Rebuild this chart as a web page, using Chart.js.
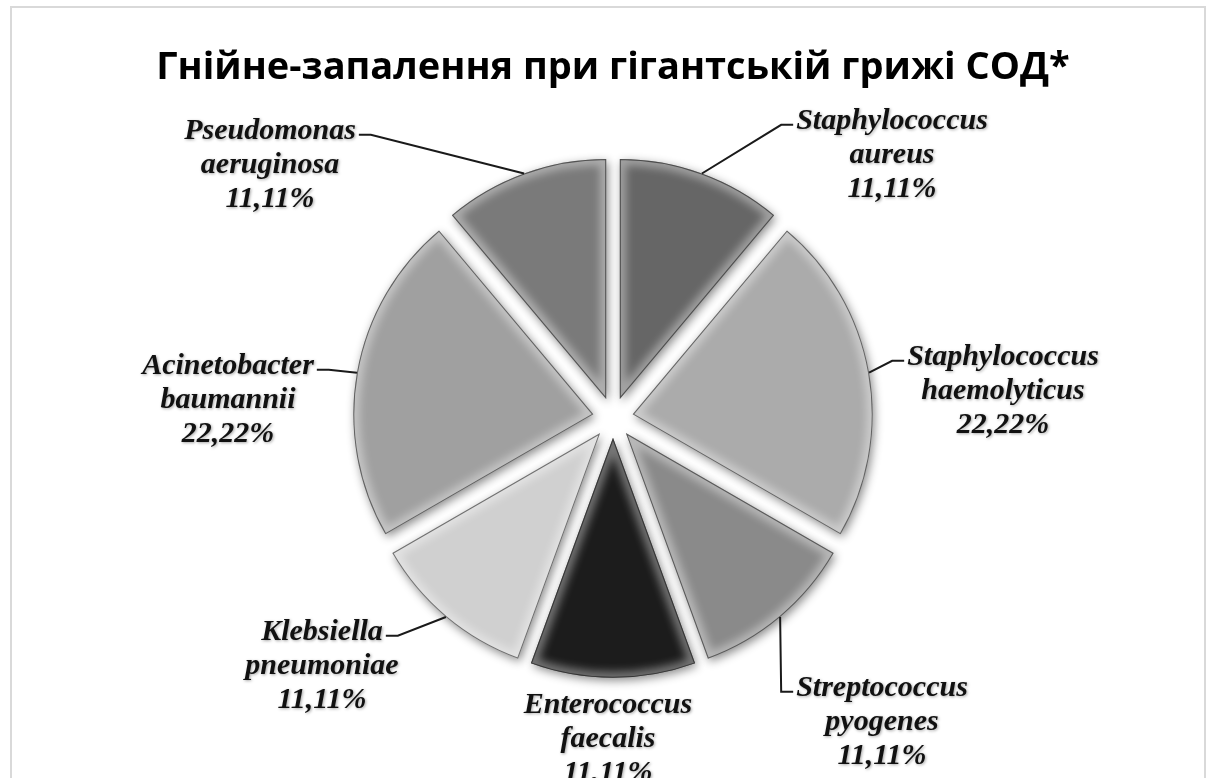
<!DOCTYPE html>
<html>
<head>
<meta charset="utf-8">
<script src="https://cdn.jsdelivr.net/npm/chart.js@4.4.1/dist/chart.umd.min.js"></script>
<style>
  html, body { margin: 0; padding: 0; background: #fff; }
  #wrap { position: relative; width: 1214px; height: 778px; overflow: hidden; }
  #frame { position: absolute; left: 10px; top: 6px; width: 1196px; height: 800px; border: 2px solid #d9d9d9; box-sizing: border-box; }
  #pie { position: absolute; left: 0; top: 0; }
</style>
</head>
<body>
<div id="wrap">
  <div id="frame"></div>
  <canvas id="pie" width="1214" height="778"></canvas>
</div>
<script>
/* ── data ── */
const species = [
  ['Staphylococcus', 'aureus'],
  ['Staphylococcus', 'haemolyticus'],
  ['Streptococcus', 'pyogenes'],
  ['Enterococcus', 'faecalis'],
  ['Klebsiella', 'pneumoniae'],
  ['Acinetobacter', 'baumannii'],
  ['Pseudomonas', 'aeruginosa']
];
const shares = [11.11, 22.22, 11.11, 11.11, 11.11, 22.22, 11.11];
const percentLabels = shares.map(v => v.toFixed(2).replace('.', ',') + '%');

/* ── look ── */
const sliceColors = ['#666666', '#ababab', '#8a8a8a', '#1c1c1c', '#d0d0d0', '#a0a0a0', '#7a7a7a'];
const EXPLODE = 20;   // px each slice is pulled out along its bisector
// label block centre (middle line), relative to pie centre
const labelOffsets = [[279, -263], [390, -27], [269, 304], [-5, 321], [-291, 248], [-385, -18], [-343, -253]];
const hasLeader = [true, true, true, false, true, true, true];
const LINE_H = 34;
const LABEL_FONT = 'italic bold 30px "Liberation Serif", "Times New Roman", serif';

const midAngle = arc => (arc.startAngle + arc.endAngle) / 2;

/* ── exploded slices, shading, callout labels ── */
const pieDecor = {
  id: 'pieDecor',
  afterDatasetUpdate(chart, args) {
    args.meta.data.forEach(arc => {
      const m = midAngle(arc);
      arc.cx0 = arc.x;
      arc.cy0 = arc.y;
      arc.x += Math.cos(m) * EXPLODE;
      arc.y += Math.sin(m) * EXPLODE;
    });
  },
  beforeDatasetsDraw(chart) {
    const ctx = chart.ctx;
    ctx.save();
    ctx.shadowColor = 'rgba(0,0,0,0.45)';
    ctx.shadowBlur = 10;
    ctx.shadowOffsetX = 2;
    ctx.shadowOffsetY = 3;
  },
  afterDatasetsDraw(chart) {
    const ctx = chart.ctx;
    ctx.restore();
    const arcs = chart.getDatasetMeta(0).data;

    // bevel: soft light rim and thin dark edge inside every slice
    arcs.forEach(arc => {
      const { x, y, startAngle, endAngle, outerRadius } = arc;
      ctx.save();
      ctx.beginPath();
      ctx.moveTo(x, y);
      ctx.arc(x, y, outerRadius, startAngle, endAngle);
      ctx.closePath();
      ctx.clip();
      ctx.filter = 'blur(4px)';
      ctx.strokeStyle = 'rgba(255,255,255,0.4)';
      ctx.lineWidth = 12;
      ctx.stroke();
      ctx.filter = 'none';
      ctx.strokeStyle = 'rgba(0,0,0,0.5)';
      ctx.lineWidth = 2;
      ctx.stroke();
      ctx.restore();
    });

    // labels with leader lines
    ctx.save();
    ctx.font = LABEL_FONT;
    ctx.textAlign = 'center';
    ctx.textBaseline = 'middle';
    arcs.forEach((arc, i) => {
      const { x, y, outerRadius } = arc;
      const m = midAngle(arc);
      const cx = arc.cx0 + labelOffsets[i][0];
      const cy = arc.cy0 + labelOffsets[i][1];
      const lines = [species[i][0], species[i][1], percentLabels[i]];

      if (hasLeader[i]) {
        const ex = x + Math.cos(m) * outerRadius;
        const ey = y + Math.sin(m) * outerRadius;
        const w = ctx.measureText(lines[0]).width;
        const right = cx > arc.cx0;
        const ax = right ? cx - w / 2 - 3 : cx + w / 2 + 3;
        const ay = cy - LINE_H + 4;
        ctx.beginPath();
        ctx.moveTo(ex, ey);
        ctx.lineTo(right ? ax - 12 : ax + 12, ay);
        ctx.lineTo(ax, ay);
        ctx.strokeStyle = '#1a1a1a';
        ctx.lineWidth = 2;
        ctx.stroke();
      }

      ctx.shadowColor = 'rgba(0,0,0,0.35)';
      ctx.shadowBlur = 3;
      ctx.shadowOffsetX = 1;
      ctx.shadowOffsetY = 1;
      ctx.fillStyle = '#111';
      lines.forEach((t, k) => ctx.fillText(t, cx, cy + (k - 1) * LINE_H));
      ctx.shadowColor = 'transparent';
    });
    ctx.restore();
  }
};

new Chart(document.getElementById('pie').getContext('2d'), {
  type: 'pie',
  data: {
    labels: species.map(s => s.join(' ')),
    datasets: [{
      data: shares,
      backgroundColor: sliceColors,
      borderWidth: 0,
      offset: 0,
      hoverOffset: 0,
      radius: 240,
      clip: false
    }]
  },
  options: {
    responsive: false,
    animation: false,
    events: [],
    layout: { padding: { left: 12, right: 0, top: 0, bottom: 33 } },
    plugins: {
      legend: { display: false },
      tooltip: { enabled: false },
      title: {
        display: true,
        text: 'Гнійне-запалення при гігантській грижі СОД*',
        color: '#000',
        font: { family: '"Open Sans", sans-serif', size: 38, weight: 'bold', lineHeight: 1.2 },
        padding: { top: 45, bottom: 0 }
      }
    }
  },
  plugins: [pieDecor]
});
</script>
</body>
</html>
